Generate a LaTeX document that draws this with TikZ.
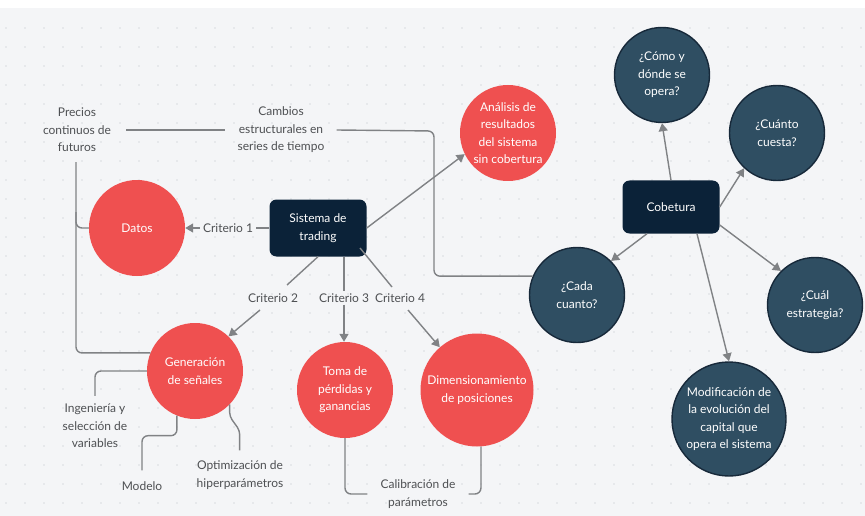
\documentclass[tikz,border=0pt]{standalone}
\usepackage{fontspec}
\setmainfont{Lato}
\usetikzlibrary{arrows.meta,calc}
\definecolor{bgc}{HTML}{F4F5F7}
\definecolor{dotc}{HTML}{D8DBDF}
\definecolor{redc}{HTML}{EF5050}
\definecolor{navyb}{HTML}{0B2238}
\definecolor{tealc}{HTML}{2F4E62}
\definecolor{tealb}{HTML}{17293A}
\definecolor{linec}{HTML}{808285}
\definecolor{txtc}{HTML}{4E5053}
\begin{document}
\begin{tikzpicture}[x=1pt,y=-1pt,
  basefont/.style={font=\fontsize{12}{17.5}\selectfont},
  redcirc/.style={circle,fill=redc,text=white,align=center,minimum size=96pt,inner sep=0pt,basefont},
  tealcirc/.style={circle,fill=tealc,draw=tealb,line width=1.4pt,text=white,align=center,minimum size=95pt,inner sep=0pt,basefont},
  darkbox/.style={rectangle,rounded corners=7pt,fill=navyb,text=white,align=center,minimum width=97pt,inner sep=0pt,basefont},
  lbl/.style={text=txtc,align=center,inner xsep=3pt,inner ysep=2pt,basefont},
  conn/.style={draw=linec,line width=1.4pt,rounded corners=6pt},
  arr/.style={-{Triangle[length=8pt,width=9pt]}}
]
\useasboundingbox (0,0) rectangle (865,516);
\fill[white] (0,0) rectangle (865,516);
\fill[bgc] (0,8) rectangle (865,516);
\foreach \xx in {6,25,...,864}{
  \foreach \yy in {28,47,...,515}{
    \fill[dotc] (\xx,\yy) circle (0.85pt);
  }
}

% main nodes
\node[darkbox,minimum height=57pt] (sis) at (318,228) {Sistema de\\trading};
\node[redcirc] (datos) at (137,228) {Datos};
\node[redcirc] (analisis) at (508,133) {Análisis de\\resultados\\del sistema\\sin cobertura};
\node[redcirc] (gen) at (195,371) {Generación\\de señales};
\node[redcirc] (toma) at (345,390) {Toma de\\pérdidas y\\ganancias};
\node[redcirc,minimum size=113pt] (dim) at (477,390) {Dimensionamiento\\de posiciones};

\node[darkbox,minimum height=53pt] (cob) at (671,207) {Cobetura};
\node[tealcirc] (como) at (662,75) {¿Cómo y\\dónde se\\opera?};
\node[tealcirc] (cuanto) at (777,133) {¿Cuánto\\cuesta?};
\node[tealcirc] (cada) at (577,295) {¿Cada\\cuanto?};
\node[tealcirc] (cual) at (815,305) {¿Cuál\\estrategia?};
\node[tealcirc,minimum size=114pt] (modif) at (729,419) {Modificación de\\la evolución del\\capital que\\opera el sistema};

% labels
\node[lbl,inner xsep=15pt] (precios) at (77,130) {Precios\\continuos de\\futuros};
\node[lbl,inner xsep=12pt] (cambios) at (281,130) {Cambios\\estructurales en\\series de tiempo};
\node[lbl] (c1) at (228,228) {Criterio 1};
\node[lbl] (c2) at (273,298) {Criterio 2};
\node[lbl] (c3) at (344,298) {Criterio 3};
\node[lbl] (c4) at (400,298) {Criterio 4};
\node[lbl] (ing) at (95,426) {Ingeniería y\\selección de\\variables};
\node[lbl] (modelo) at (142,486) {Modelo};
\node[lbl] (opt) at (240,475) {Optimización de\\hiperparámetros};
\node[lbl,inner xsep=13pt] (calib) at (418,494) {Calibración de\\parámetros};

% coordinates for free ends
\coordinate (pb) at (76,212);
\coordinate (c2a) at (287,285);
\coordinate (c2b) at (260,310);
\coordinate (c4s) at (360,248);
\coordinate (c4a) at (392,287);
\coordinate (c4b) at (408,310);
\coordinate (cambc) at (434,131);

% connectors
\draw[conn] (sis.west) -- (c1.east);
\draw[conn,arr] (c1.west) -- (datos.east);
\draw[conn,arr] (sis.east) -- (analisis.206);
\draw[conn] (sis.south) -- (c2a);
\draw[conn,arr] (c2b) -- (gen.46);
\draw[conn] (sis.south -| c3.north) -- (c3.north);
\draw[conn,arr] (c3.south) -- (c3.south |- toma.north);
\draw[conn] (c4s) -- (c4a);
\draw[conn,arr] (c4b) -- (dim.131);

\draw[conn] (precios.east) -- (cambios.west);
\draw[conn] (cambios.east) -- (cambc) |- (cada.157);
\draw[conn,shorten <=8pt] (precios.south -| pb) |- (gen.158);
\draw[conn] (pb) |- (datos.west);

\draw[conn,shorten >=6pt] (gen.west) -| (ing.north);
\draw[conn,shorten >=9pt] (gen.-112) -- ++(0,20) -| (modelo.north);
\draw[conn,rounded corners=4pt] (gen.-44) -- ++(0,12) -- ++(10,14) -- ++(0,20);
\draw[conn] (toma.south) |- (calib.west);
\draw[conn] (dim.-86) |- (calib.east);

\draw[conn,arr] (cob.north) -- (como.south);
\draw[conn,arr] (cob.east) -- (cuanto.-133);
\draw[conn,arr] ($(cob.east)+(0,18)$) -- (cual.135);
\draw[conn,arr] ($(cob.south)+(-24,0)$) -- (cada.45);
\draw[conn,arr] ($(cob.south)+(26,0)$) -- (modif.north);
\end{tikzpicture}
\end{document}
